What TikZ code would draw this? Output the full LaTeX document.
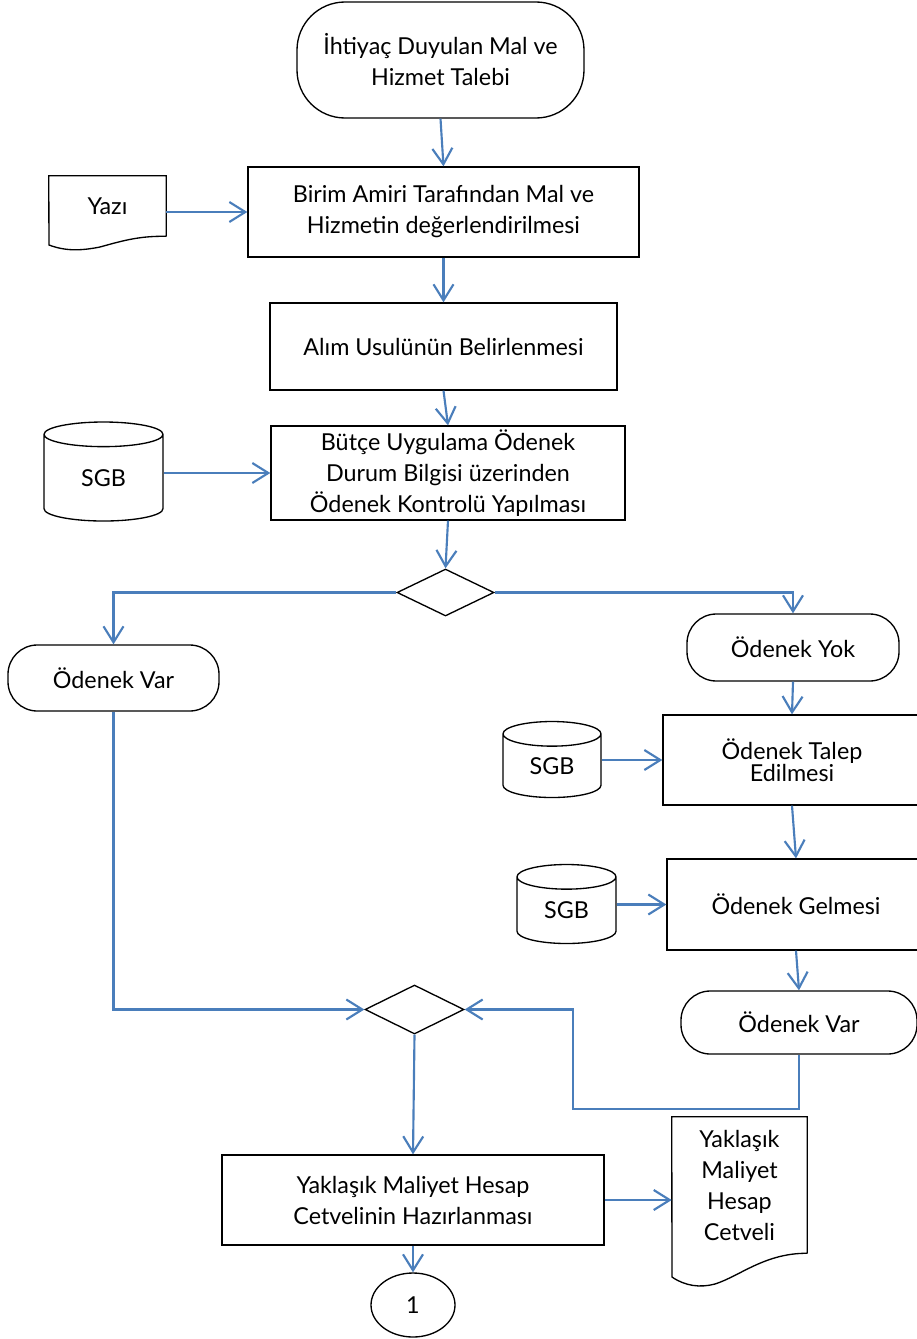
\documentclass[tikz,border=0pt]{standalone}
\usepackage{fontspec}
\setmainfont{Lato}
\usetikzlibrary{shapes.geometric,arrows.meta}
\definecolor{okmavi}{RGB}{74,126,187}
\tikzset{
  kutu/.style={draw, line width=1pt, align=center, inner sep=2pt},
  uc/.style={kutu, rounded corners=22pt},
  vt/.style={draw, line width=1pt, cylinder, shape border rotate=90, aspect=0.55, inner sep=0pt},
  karar/.style={draw, line width=1pt, diamond, inner sep=0pt},
  belge/.style={align=center, inner sep=0pt},
  ok/.style={draw=okmavi, line width=1.6pt, -{Straight Barb[length=12pt,width=15pt]}},
}
\begin{document}
\begin{tikzpicture}[x=0.75pt, y=-0.75pt, every node/.style={font=\fontsize{17.5}{23.25}\selectfont}]
  \clip (0,0) rectangle (917,1339);

  \node[uc, rounded corners=36pt, minimum width=215.25pt, minimum height=87pt] (ihtiyac) at (440.5, 60) {İhtiyaç Duyulan Mal ve\\Hizmet Talebi};
  \node[kutu, minimum width=293.25pt, minimum height=67.5pt] (birim) at (443.5, 212) {Birim Amiri Tarafından Mal ve\\Hizmetin değerlendirilmesi};
  \node[belge, minimum width=87.75pt, minimum height=45pt] (yazi) at (107.5, 206) {Yazı};
  \node[kutu, minimum width=260.25pt, minimum height=65.25pt] (alim) at (443.5, 346.5) {Alım Usulünün Belirlenmesi};
  \node[kutu, minimum width=265.5pt, minimum height=70.5pt] (butce) at (448, 473) {Bütçe Uygulama Ödenek\\Durum Bilgisi üzerinden\\Ödenek Kontrolü Yapılması};
  \node[vt, minimum width=89.25pt, minimum height=74.25pt] (sgb1) at (103.5, 478) {SGB};
  \node[karar, minimum width=72.75pt, minimum height=35.25pt] (karar1) at (445.5, 592.5) {};
  \node[uc, minimum width=158.25pt, minimum height=49.5pt] (varsol) at (113.5, 678) {Ödenek Var};
  \node[uc, minimum width=159pt, minimum height=50.25pt] (yok) at (793, 647.5) {Ödenek Yok};
  \node[kutu, minimum width=193.5pt, minimum height=67.5pt, font=\fontsize{17.5}{13.5}\selectfont] (talep) at (792, 760) {Ödenek Talep\\Edilmesi};
  \node[vt, minimum width=73.5pt, minimum height=57pt] (sgb2) at (552, 766) {SGB};
  \node[kutu, minimum width=193.5pt, minimum height=68.25pt] (gelmesi) at (796, 904.5) {Ödenek Gelmesi};
  \node[vt, minimum width=74.25pt, minimum height=59.25pt] (sgb3) at (566.5, 910.5) {SGB};
  \node[uc, minimum width=177pt, minimum height=47.25pt] (varsag) at (799, 1022.5) {Ödenek Var};
  \node[karar, minimum width=74.25pt, minimum height=36.75pt] (karar2) at (414.5, 1009.5) {};
  \node[kutu, minimum width=286.5pt, minimum height=67.5pt] (hesap) at (413, 1200) {Yaklaşık Maliyet Hesap\\Cetvelinin Hazırlanması};
  \node[belge, minimum width=101.25pt, minimum height=102pt] (cetvel) at (739.5, 1185) {Yaklaşık\\Maliyet\\Hesap\\Cetveli};
  \node[draw, line width=1pt, ellipse, minimum width=63pt, minimum height=48pt, inner sep=0pt] (bir) at (413, 1305) {1};

  % belge kenarlari
  \draw[line width=1pt] (yazi.south east) -- (yazi.north east) -- (yazi.north west) -- (49,245) .. controls (65,251) and (80,251) .. (100,247) .. controls (125,240) and (140,236) .. (yazi.south east);
  \draw[line width=1pt] (cetvel.south east) -- (cetvel.north east) -- (cetvel.north west) -- (672,1277) .. controls (685,1286) and (700,1288) .. (715,1284) .. controls (740,1276) and (765,1253) .. (cetvel.south east);

  % ihtiyac -> birim
  \draw[ok] (ihtiyac.south) -- (birim.north);
  % yazi -> birim
  \draw[ok] (yazi.east |- birim.west) -- (birim.west);
  % birim -> alim
  \draw[ok] (birim.south) -- (alim.north);
  % alim -> butce
  \draw[ok] (alim.south) -- (butce.north);
  % sgb -> butce
  \draw[ok] (sgb1.east |- butce.west) -- (butce.west);
  % butce -> karar
  \draw[ok] (butce.south) -- (karar1.north);
  % karar -> var / yok
  \draw[ok] (karar1.west) -| (varsol.north);
  \draw[ok] (karar1.east) -| (yok.north);
  % yok -> talep
  \draw[ok] (yok.south) -- (talep.north);
  \draw[ok] (sgb2.east |- talep.west) -- (talep.west);
  % talep -> gelmesi
  \draw[ok] (talep.south) -- (gelmesi.north);
  \draw[ok] (sgb3.east |- gelmesi.west) -- (gelmesi.west);
  % gelmesi -> var
  \draw[ok] (gelmesi.south) -- (varsag.north);
  % var -> karar2
  \coordinate (donus) at (573, 1109);
  \draw[ok] (varsag.south) |- (donus) |- (karar2.east);
  \draw[ok] (varsol.south) |- (karar2.west);
  % karar2 -> hesap
  \draw[ok] (karar2.south) -- (hesap.north);
  \draw[ok] (hesap.east) -- (hesap.east -| cetvel.west);
  % hesap -> bir
  \draw[ok] (hesap.south) -- (bir.north);
\end{tikzpicture}
\end{document}
